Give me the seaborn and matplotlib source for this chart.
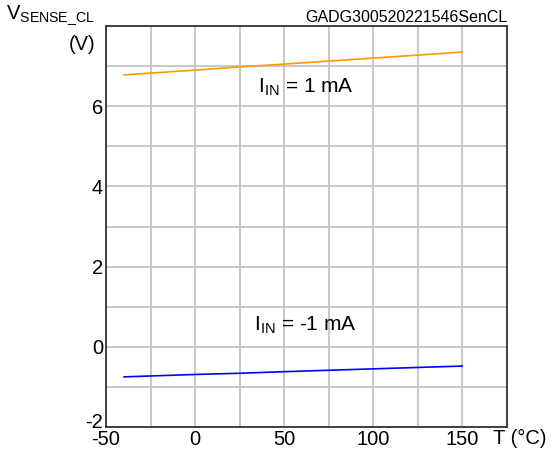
import matplotlib
matplotlib.use('Agg')
import matplotlib.pyplot as plt
import matplotlib.transforms as mtransforms
import seaborn as sns
import pandas as pd

# data
temp = [-40, 0, 25, 50, 100, 150]
v_pos = [6.78, 6.90, 6.98, 7.05, 7.20, 7.35]   # I_IN = 1 mA
v_neg = [-0.75, -0.69, -0.66, -0.62, -0.55, -0.48]  # I_IN = -1 mA

x_ticks = [-50, 0, 50, 100, 150]
y_ticks = [-2, 0, 2, 4, 6]

sns.set_style('white')
plt.rcParams['font.family'] = ['Liberation Sans', 'DejaVu Sans']
plt.rcParams['text.color'] = 'black'
plt.rcParams['xtick.color'] = 'black'
plt.rcParams['ytick.color'] = 'black'

df = pd.DataFrame({'T': temp * 2,
                   'V': v_pos + v_neg,
                   'I': ['1 mA'] * len(temp) + ['-1 mA'] * len(temp)})

fig = plt.figure(figsize=(5.55, 4.55), dpi=100)
ax = fig.add_axes([106 / 555, 1 - 427 / 455, (507 - 106) / 555, (427 - 26) / 455])

sns.lineplot(data=df, x='T', y='V', hue='I', palette={'1 mA': '#ff9900', '-1 mA': '#0000ff'},
             linewidth=1.2, legend=False, ax=ax)

ax.set_xlim(-50, 175)
ax.set_ylim(-2, 8)
ax.set_xticks(range(-50, 176, 25))
ax.set_yticks(range(-2, 9))
ax.set_xticklabels([str(t) if t in x_ticks else '' for t in range(-50, 176, 25)], fontsize=14.5)
ax.set_yticklabels([str(t) if t in y_ticks else '' for t in range(-2, 9)], fontsize=14.5)
ax.tick_params(length=0, pad=2)
# lift the bottom y label a bit, like the reference
lbl = ax.get_yticklabels()[0]
lbl.set_transform(lbl.get_transform() + mtransforms.ScaledTranslation(0, 7 / 100, fig.dpi_scale_trans))
ax.grid(True, color='#c4c4c4', linewidth=1.3)
for s in ax.spines.values():
    s.set_color('#333333')
    s.set_linewidth(1.3)
ax.set_xlabel('')
ax.set_ylabel('')

ax.text(62, 6.48, r'I$_{\mathregular{IN}}$ = 1 mA', fontsize=15, ha='center', va='center')
ax.text(62, 0.54, r'I$_{\mathregular{IN}}$ = -1 mA', fontsize=15, ha='center', va='center')

fig.text(95 / 555, 1 - 15 / 455, r'V$_{\mathregular{SENSE\_CL}}$', fontsize=14.5, ha='right', va='center')
fig.text(95 / 555, 1 - 45 / 455, '(V)', fontsize=14.5, ha='right', va='center')
fig.text(507 / 555, 1 - 17 / 455, 'GADG300520221546SenCL', fontsize=11.5, ha='right', va='center')
fig.text(493 / 555, 1 - 438 / 455, 'T (°C)', fontsize=14.5, ha='left', va='center')

fig.savefig('out.png', dpi=100)
